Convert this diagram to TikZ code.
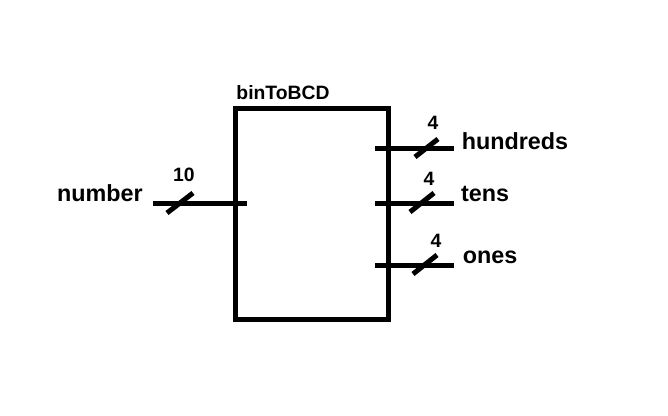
\documentclass[tikz,border=0pt]{standalone}
\usepackage{fontspec}
\setmainfont{Liberation Sans}
\begin{document}
\begin{tikzpicture}[x=0.75pt,y=-0.75pt,
  wire/.style={line width=3.75pt},
  lbl/.style={font=\fontsize{17.5}{19}\selectfont\bfseries, anchor=base, inner sep=0pt},
  small/.style={font=\fontsize{14.5}{16}\selectfont\bfseries, anchor=base, inner sep=0pt},
  titlef/.style={font=\fontsize{14.5}{16}\selectfont\bfseries, anchor=base, inner sep=0pt}]
\useasboundingbox[fill=white] (0,0) rectangle (668,416);
% block
\node[draw, line width=3.75pt, minimum width=153*0.75pt, minimum height=211*0.75pt, inner sep=0pt] (box) at (311.5,214.5) {};
\node[titlef] (title) at (283,100) {binToBCD};
% input
\coordinate (inA) at (153,203.5);
\coordinate (inB) at (247,203.5);
\draw[wire] (inA) -- (inB);
\coordinate (sIa) at (167,213); \coordinate (sIb) at (193,193);
\draw[wire] (sIa) -- (sIb);
\node[small] (n10) at (184,182) {10};
\node[lbl] (number) at (100,202) {number};
% outputs
\coordinate (hA) at (375,148.5); \coordinate (hB) at (454,148.5);
\draw[wire] (hA) -- (hB);
\coordinate (shA) at (415,157); \coordinate (shB) at (438,139);
\draw[wire] (shA) -- (shB);
\node[small] (nh) at (433,130) {4};
\node[lbl] (hundreds) at (515,150) {hundreds};
\coordinate (tA) at (375,203.5); \coordinate (tB) at (454,203.5);
\draw[wire] (tA) -- (tB);
\coordinate (stA) at (410,212); \coordinate (stB) at (434,193);
\draw[wire] (stA) -- (stB);
\node[small] (nt) at (429,186) {4};
\node[lbl] (tens) at (485,202) {tens};
\coordinate (oA) at (375,265.5); \coordinate (oB) at (454,265.5);
\draw[wire] (oA) -- (oB);
\coordinate (soA) at (413,274); \coordinate (soB) at (437,255);
\draw[wire] (soA) -- (soB);
\node[small] (no) at (436,248) {4};
\node[lbl] (ones) at (490,264) {ones};
\end{tikzpicture}
\end{document}
